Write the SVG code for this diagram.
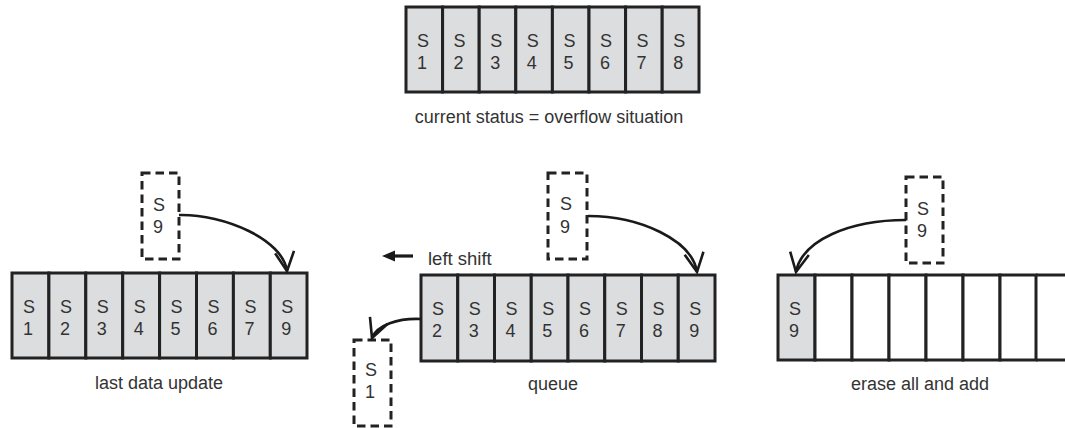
<svg xmlns="http://www.w3.org/2000/svg" width="1065" height="428" viewBox="0 0 1065 428">
  <style>
    .cell { fill: #dcdddf; stroke: #222; stroke-width: 3; }
    .empty { fill: #fff; stroke: #222; stroke-width: 3; }
    .edge { stroke: #222; stroke-width: 3; }
    .slot { fill: #fff; stroke: #222; stroke-width: 3; stroke-dasharray: 8.5 5; }
    .lbl { font-family: "Liberation Sans", Arial, sans-serif; font-size: 18px; fill: #333; }
    .cap { font-family: "Liberation Sans", Arial, sans-serif; font-size: 18px; fill: #333; text-anchor: middle; }
    .link { fill: none; stroke: #1a1a1a; stroke-width: 2.6; }
  </style>
  <defs>
    <marker id="vhead" markerUnits="userSpaceOnUse" markerWidth="40" markerHeight="40" refX="0" refY="0" orient="auto" overflow="visible">
      <path d="M-19,-9.5 L0,0 L-19,9.5" fill="none" stroke="#1a1a1a" stroke-width="2.6" stroke-linejoin="miter"/>
    </marker>
  </defs>

  <!-- register S1..S8, overflow state -->
  <g id="current-status">
    <rect class="cell" x="406" y="7" width="36.6" height="85"/>
    <rect class="cell" x="442.6" y="7" width="36.6" height="85"/>
    <rect class="cell" x="479.2" y="7" width="36.6" height="85"/>
    <rect class="cell" x="515.8" y="7" width="36.6" height="85"/>
    <rect class="cell" x="552.4" y="7" width="36.6" height="85"/>
    <rect class="cell" x="589" y="7" width="36.6" height="85"/>
    <rect class="cell" x="625.6" y="7" width="36.6" height="85"/>
    <rect class="cell" x="662.2" y="7" width="36.8" height="85"/>
    <text class="lbl" x="417" y="47">S<tspan x="417" y="69">1</tspan></text>
    <text class="lbl" x="453.6" y="47">S<tspan x="453.6" y="69">2</tspan></text>
    <text class="lbl" x="490.2" y="47">S<tspan x="490.2" y="69">3</tspan></text>
    <text class="lbl" x="526.8" y="47">S<tspan x="526.8" y="69">4</tspan></text>
    <text class="lbl" x="563.4" y="47">S<tspan x="563.4" y="69">5</tspan></text>
    <text class="lbl" x="600" y="47">S<tspan x="600" y="69">6</tspan></text>
    <text class="lbl" x="636.6" y="47">S<tspan x="636.6" y="69">7</tspan></text>
    <text class="lbl" x="673.2" y="47">S<tspan x="673.2" y="69">8</tspan></text>
    <text class="cap" x="549" y="123">current status = overflow situation</text>
  </g>

  <!-- strategy 1: overwrite the last slot -->
  <g id="last-data-update">
    <rect class="cell" x="12" y="273" width="36.9" height="85"/>
    <rect class="cell" x="48.9" y="273" width="36.9" height="85"/>
    <rect class="cell" x="85.8" y="273" width="36.9" height="85"/>
    <rect class="cell" x="122.7" y="273" width="36.9" height="85"/>
    <rect class="cell" x="159.6" y="273" width="36.9" height="85"/>
    <rect class="cell" x="196.5" y="273" width="36.9" height="85"/>
    <rect class="cell" x="233.4" y="273" width="36.9" height="85"/>
    <rect class="cell" x="270.3" y="273" width="36.7" height="85"/>
    <text class="lbl" x="23" y="313">S<tspan x="23" y="335">1</tspan></text>
    <text class="lbl" x="59.9" y="313">S<tspan x="59.9" y="335">2</tspan></text>
    <text class="lbl" x="96.8" y="313">S<tspan x="96.8" y="335">3</tspan></text>
    <text class="lbl" x="133.7" y="313">S<tspan x="133.7" y="335">4</tspan></text>
    <text class="lbl" x="170.6" y="313">S<tspan x="170.6" y="335">5</tspan></text>
    <text class="lbl" x="207.5" y="313">S<tspan x="207.5" y="335">6</tspan></text>
    <text class="lbl" x="244.4" y="313">S<tspan x="244.4" y="335">7</tspan></text>
    <text class="lbl" x="281.3" y="313">S<tspan x="281.3" y="335">9</tspan></text>
    <text class="cap" x="159" y="389">last data update</text>
  </g>
  <g id="new-s9-a">
    <rect class="slot" x="142" y="173" width="37" height="86"/>
    <text class="lbl" x="153" y="211">S<tspan x="153" y="233">9</tspan></text>
  </g>

  <!-- strategy 2: queue with left shift -->
  <g id="queue">
    <rect class="cell" x="421" y="275" width="36.75" height="86"/>
    <rect class="cell" x="457.75" y="275" width="36.75" height="86"/>
    <rect class="cell" x="494.5" y="275" width="36.75" height="86"/>
    <rect class="cell" x="531.25" y="275" width="36.75" height="86"/>
    <rect class="cell" x="568" y="275" width="36.75" height="86"/>
    <rect class="cell" x="604.75" y="275" width="36.75" height="86"/>
    <rect class="cell" x="641.5" y="275" width="36.75" height="86"/>
    <rect class="cell" x="678.25" y="275" width="36.75" height="86"/>
    <text class="lbl" x="432" y="315">S<tspan x="432" y="337">2</tspan></text>
    <text class="lbl" x="468.75" y="315">S<tspan x="468.75" y="337">3</tspan></text>
    <text class="lbl" x="505.5" y="315">S<tspan x="505.5" y="337">4</tspan></text>
    <text class="lbl" x="542.25" y="315">S<tspan x="542.25" y="337">5</tspan></text>
    <text class="lbl" x="579" y="315">S<tspan x="579" y="337">6</tspan></text>
    <text class="lbl" x="615.75" y="315">S<tspan x="615.75" y="337">7</tspan></text>
    <text class="lbl" x="652.5" y="315">S<tspan x="652.5" y="337">8</tspan></text>
    <text class="lbl" x="689.25" y="315">S<tspan x="689.25" y="337">9</tspan></text>
    <text class="cap" x="553" y="390">queue</text>
  </g>
  <g id="new-s9-b">
    <rect class="slot" x="548" y="173" width="39" height="86"/>
    <text class="lbl" x="560" y="210">S<tspan x="560" y="233">9</tspan></text>
  </g>
  <g id="dropped-s1">
    <rect class="slot" x="354" y="340" width="37" height="86"/>
    <text class="lbl" x="365" y="376">S<tspan x="365" y="398">1</tspan></text>
  </g>
  <g id="left-shift">
    <line x1="413" y1="256" x2="392" y2="256" stroke="#1a1a1a" stroke-width="3.2"/>
    <polygon points="382,256 395,250.5 395,261.5" fill="#1a1a1a"/>
    <text class="lbl" x="428" y="265" style="font-size:18.5px">left shift</text>
  </g>

  <!-- strategy 3: clear the register, then store -->
  <g id="erase-all-and-add">
    <rect class="cell" x="778" y="275" width="37" height="85"/>
    <rect class="empty" x="815" y="275" width="37" height="85"/>
    <rect class="empty" x="852" y="275" width="37" height="85"/>
    <rect class="empty" x="889" y="275" width="37" height="85"/>
    <rect class="empty" x="926" y="275" width="37" height="85"/>
    <rect class="empty" x="963" y="275" width="37" height="85"/>
    <rect class="empty" x="1000" y="275" width="36" height="85"/>
    <line class="edge" x1="1036" y1="275" x2="1066" y2="275"/>
    <line class="edge" x1="1036" y1="360" x2="1066" y2="360"/>
    <text class="lbl" x="789" y="315">S<tspan x="789" y="337">9</tspan></text>
    <text class="cap" x="920" y="390">erase all and add</text>
  </g>
  <g id="new-s9-c">
    <rect class="slot" x="906" y="177" width="37" height="86"/>
    <text class="lbl" x="917" y="215">S<tspan x="917" y="237">9</tspan></text>
  </g>

  <g id="connectors">
    <path class="link" d="M179,215 C225,214 283,240 287,271" marker-end="url(#vhead)"/>
    <path class="link" d="M588,216 C640,216 692,240 697,272" marker-end="url(#vhead)"/>
    <path class="link" d="M421,319 C398,318 377,325 372,338" marker-end="url(#vhead)"/>
    <path class="link" d="M906,220 C850,220 802,240 796,272" marker-end="url(#vhead)"/>
  </g>
</svg>
